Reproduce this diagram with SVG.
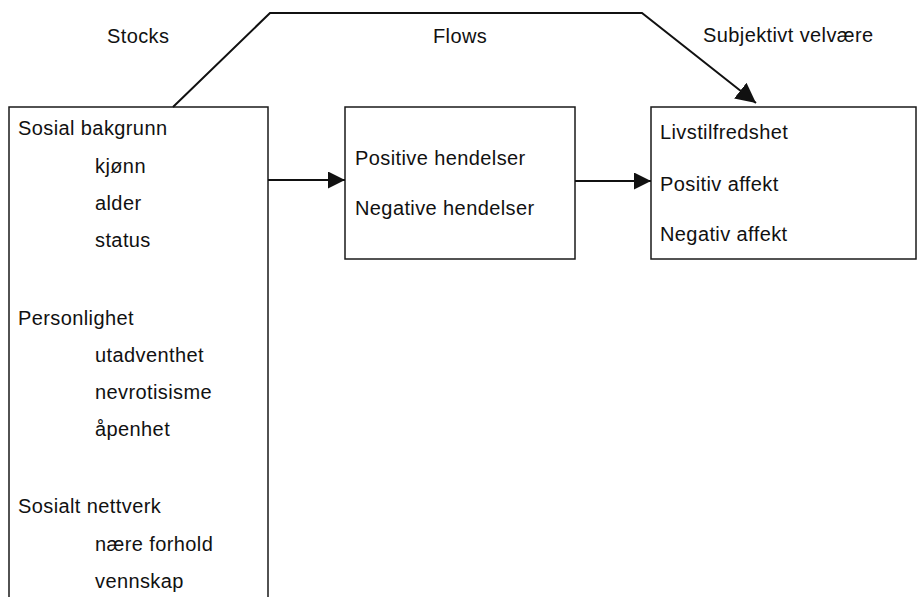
<svg xmlns="http://www.w3.org/2000/svg" width="917" height="597" viewBox="0 0 917 597">
  <style>
    .box { fill: #ffffff; stroke: #1a1a1a; stroke-width: 1.5; }
    .conn { fill: none; stroke: #111111; stroke-width: 2; }
    text { font-family: "Liberation Sans", Arial, sans-serif; font-size: 20px; fill: #111111; letter-spacing: 0.4px; }
  </style>
  <defs>
    <marker id="arrow" markerUnits="userSpaceOnUse" markerWidth="17" markerHeight="17" viewBox="0 0 16 16" refX="16" refY="8" orient="auto">
      <path d="M0,0 L16,8 L0,16 Z" fill="#111111"/>
    </marker>
    <marker id="arrow-lg" markerUnits="userSpaceOnUse" markerWidth="20" markerHeight="20" viewBox="0 0 16 16" refX="16" refY="8" orient="auto">
      <path d="M0,0 L16,8 L0,16 Z" fill="#111111"/>
    </marker>
  </defs>

  <rect width="917" height="597" fill="#ffffff"/>

  <!-- column headings -->
  <g id="headings">
    <text x="107" y="43">Stocks</text>
    <text x="433" y="43">Flows</text>
    <text x="703" y="42">Subjektivt velvære</text>
  </g>

  <!-- stocks box (runs off the bottom edge) -->
  <g id="stocks">
    <path class="box" d="M9,610 L9,107 L268,107 L268,610"/>
    <text x="18" y="135">Sosial bakgrunn</text>
    <text x="95" y="173">kjønn</text>
    <text x="95" y="210">alder</text>
    <text x="95" y="247">status</text>
    <text x="18" y="325">Personlighet</text>
    <text x="95" y="362">utadventhet</text>
    <text x="95" y="399">nevrotisisme</text>
    <text x="95" y="436">åpenhet</text>
    <text x="18" y="513">Sosialt nettverk</text>
    <text x="95" y="551">nære forhold</text>
    <text x="95" y="588">vennskap</text>
  </g>

  <!-- flows box -->
  <g id="flows">
    <rect class="box" x="345" y="107" width="230" height="152"/>
    <text x="355" y="165">Positive hendelser</text>
    <text x="355" y="215">Negative hendelser</text>
  </g>

  <!-- subjective well-being box -->
  <g id="velvaere">
    <rect class="box" x="651" y="107" width="265" height="152"/>
    <text x="660" y="139">Livstilfredshet</text>
    <text x="660" y="191">Positiv affekt</text>
    <text x="660" y="241">Negativ affekt</text>
  </g>

  <!-- connectors -->
  <g id="connectors">
    <line class="conn" x1="268" y1="180" x2="345" y2="180" marker-end="url(#arrow)"/>
    <line class="conn" x1="575" y1="181" x2="651" y2="181" marker-end="url(#arrow)"/>
    <polyline class="conn" points="173,107 270,13 642,13 756,103" marker-end="url(#arrow-lg)"/>
  </g>
</svg>
